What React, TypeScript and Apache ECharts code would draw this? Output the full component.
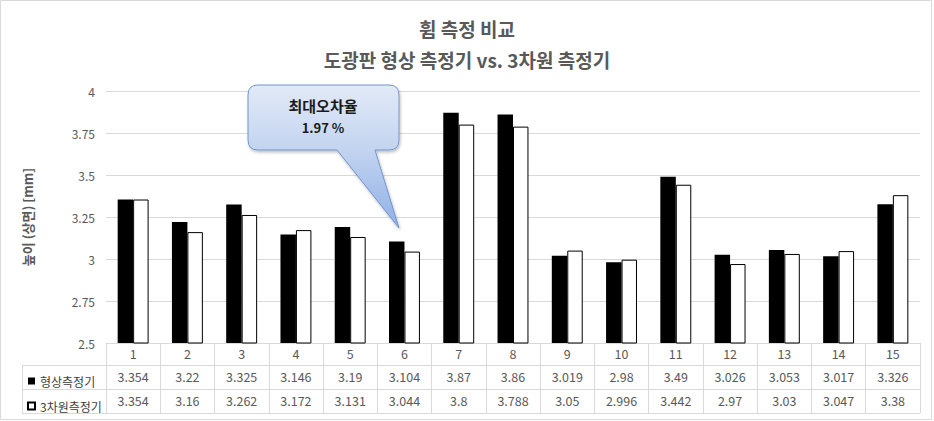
import React, { useEffect, useRef } from "react";
import * as echarts from "echarts";

const categories = ["1", "2", "3", "4", "5", "6", "7", "8", "9", "10", "11", "12", "13", "14", "15"];
const shapeValues = [3.354, 3.22, 3.325, 3.146, 3.19, 3.104, 3.87, 3.86, 3.019, 2.98, 3.49, 3.026, 3.053, 3.017, 3.326];
const cmmValues = [3.354, 3.16, 3.262, 3.172, 3.131, 3.044, 3.8, 3.788, 3.05, 2.996, 3.442, 2.97, 3.03, 3.047, 3.38];
const seriesNames = ["형상측정기", "3차원측정기"];
const titleLines = ["휨 측정 비교", "도광판 형상 측정기 vs. 3차원 측정기"];
const yAxisName = "높이 (상면) [mm]";
const calloutTitle = "최대오차율";
const calloutValue = "1.97 %";

const FONT = "'Noto Sans CJK KR', 'Noto Sans', sans-serif";
const GRID_LINE = "#d9d9d9";
const TEXT = "#595959";

let registered = false;
function registerCallout() {
  if (registered) return;
  registered = true;
  const d =
    "M258 85 H389 Q399 85 399 95 V140 Q399 150 389 150 H375 L399 228 L337 150 H258 Q248 150 248 140 V95 Q248 85 258 85 Z";
  echarts.graphic.registerShape("callout", echarts.graphic.extendPath(d, {}));
}

export default function App() {
  const ref = useRef<HTMLDivElement>(null);

  useEffect(() => {
    document.body.style.margin = "0";
    registerCallout();
    const chart = echarts.init(ref.current!, null, { renderer: "svg" });
    const tableAxis = (data: number[], offset: number) => ({
      type: "category",
      gridIndex: 0,
      position: "bottom",
      offset,
      data: data.map((v) => String(v)),
      axisLine: { show: true, lineStyle: { color: GRID_LINE } },
      axisTick: { show: false },
      axisLabel: { interval: 0, margin: 5, color: TEXT, fontSize: 12.5, fontFamily: FONT },
      splitLine: { show: false },
    });
    chart.setOption({
      animation: false,
      backgroundColor: "#ffffff",
      title: {
        text: titleLines.join("\n"),
        left: "center",
        top: 8,
        textStyle: { fontSize: 19, fontWeight: "bold", color: TEXT, lineHeight: 31, fontFamily: FONT },
      },
      legend: {
        orient: "vertical",
        left: 22,
        top: 369,
        itemWidth: 7,
        itemHeight: 7,
        itemGap: 11,
        icon: "rect",
        data: seriesNames,
        textStyle: { fontSize: 12, color: "#404040", fontFamily: FONT, lineHeight: 14 },
      },
      grid: { left: 106, right: 14, top: 91, bottom: 78, containLabel: false },
      xAxis: [
        {
          type: "category",
          data: categories,
          axisLine: { show: true, lineStyle: { color: GRID_LINE } },
          axisTick: { show: true, length: 70, interval: 0, lineStyle: { color: GRID_LINE } },
          axisLabel: { interval: 0, margin: 4, color: TEXT, fontSize: 12.5, fontFamily: FONT },
        },
        tableAxis(shapeValues, 22),
        tableAxis(cmmValues, 46),
      ],
      yAxis: {
        type: "value",
        min: 2.5,
        max: 4,
        interval: 0.25,
        name: yAxisName,
        nameLocation: "middle",
        nameRotate: 90,
        nameGap: 72,
        nameTextStyle: { fontSize: 13, fontWeight: "bold", color: TEXT, fontFamily: FONT },
        axisLine: { show: false },
        axisTick: { show: false },
        axisLabel: { color: TEXT, fontSize: 12, margin: 11, fontFamily: FONT },
        splitLine: { lineStyle: { color: GRID_LINE } },
      },
      series: [
        {
          name: seriesNames[0],
          type: "bar",
          data: shapeValues,
          barWidth: "28.5%",
          barGap: "0%",
          itemStyle: { color: "#000000" },
        },
        {
          name: seriesNames[1],
          type: "bar",
          data: cmmValues,
          barWidth: "28.5%",
          barGap: "0%",
          itemStyle: { color: "#ffffff", borderColor: "#000000", borderWidth: 1 },
        },
      ],
      graphic: [
        {
          type: "rect",
          shape: { x: 0.5, y: 0.5, width: 931, height: 419 },
          style: { fill: "none", stroke: "#d9d9d9", lineWidth: 1 },
          silent: true,
        },
        { type: "line", shape: { x1: 22, y1: 365.5, x2: 106, y2: 365.5 }, style: { stroke: GRID_LINE, lineWidth: 1 } },
        { type: "line", shape: { x1: 22, y1: 389.5, x2: 106, y2: 389.5 }, style: { stroke: GRID_LINE, lineWidth: 1 } },
        { type: "line", shape: { x1: 22, y1: 413.5, x2: 920, y2: 413.5 }, style: { stroke: GRID_LINE, lineWidth: 1 } },
        { type: "line", shape: { x1: 22.5, y1: 365, x2: 22.5, y2: 414 }, style: { stroke: GRID_LINE, lineWidth: 1 } },
        {
          type: "callout",
          x: 0,
          y: 0,
          scaleX: 1,
          scaleY: 1,
          z: 100,
          style: {
            fill: new echarts.graphic.LinearGradient(0, 0, 0, 1, [
              { offset: 0, color: "#e2eaf7" },
              { offset: 0.45, color: "#c3d4f0" },
              { offset: 1, color: "#8fb0e8" },
            ]),
            stroke: "#7394cb",
            lineWidth: 1,
            shadowBlur: 3,
            shadowColor: "rgba(0,0,0,0.25)",
            shadowOffsetX: 1,
            shadowOffsetY: 2,
          },
        },
        {
          type: "text",
          x: 323,
          y: 105,
          z: 101,
          style: {
            text: calloutTitle,
            fill: "#1a1a1a",
            fontSize: 15,
            fontWeight: "bold",
            fontFamily: FONT,
            align: "center",
            verticalAlign: "middle",
          },
        },
        {
          type: "text",
          x: 323,
          y: 127,
          z: 101,
          style: {
            text: calloutValue,
            fill: "#1a1a1a",
            fontSize: 13,
            fontWeight: "bold",
            fontFamily: FONT,
            align: "center",
            verticalAlign: "middle",
          },
        },
      ],
    });
    return () => chart.dispose();
  }, []);

  return <div ref={ref} style={{ width: 934, height: 421 }} />;
}
